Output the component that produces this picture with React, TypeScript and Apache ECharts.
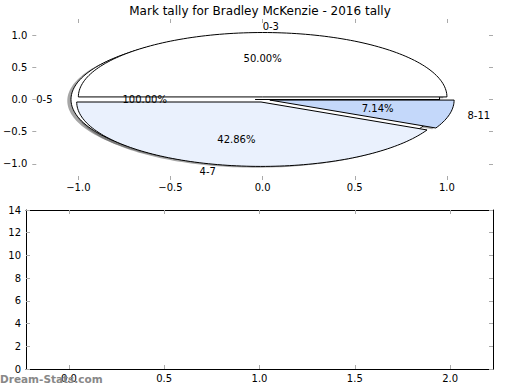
import React, { useEffect, useRef } from "react";
import * as echarts from "echarts";

const categories = ["0-3", "0-5", "4-7", "8-11"];
const counts = [7, 0, 6, 1];
const pctLabels = ["50.00%", "100.00%", "42.86%", "7.14%"];
const topTicks = [-1, -0.5, 0, 0.5, 1];
const bottomXTicks = [0, 0.5, 1, 1.5, 2];
const bottomYTicks = [0, 2, 4, 6, 8, 10, 12, 14];
const drawOrder = [1, 0, 2, 3];

const EXPLODE = 0.04;
const FILLS = ["#ffffff", "#ffffff", "#eaf1fd", "#c4d8fa"];
const FONT = "DejaVu Sans";
const TICK_COLOR = "#aaaaaa";

const total = counts.reduce((a, b) => a + b, 0);

function geom(i: number) {
  let start = 0;
  for (let j = 0; j < i; j++) start += (counts[j] / total) * 360;
  const span = (counts[i] / total) * 360;
  const mid = start + span / 2;
  const rad = (mid * Math.PI) / 180;
  const cx = EXPLODE * Math.cos(rad);
  const cy = EXPLODE * Math.sin(rad);
  const full = span === 0;
  return { cx, cy, t1: full ? 0 : start, t2: full ? 360 : start + span, rad };
}

function wedgePoints(api: any, i: number, dx: number, dy: number) {
  const g = geom(i);
  const pts: number[][] = [api.coord([g.cx + dx, g.cy + dy])];
  const n = Math.max(4, Math.ceil((g.t2 - g.t1) / 1.5));
  for (let k = 0; k <= n; k++) {
    const t = ((g.t1 + ((g.t2 - g.t1) * k) / n) * Math.PI) / 180;
    pts.push(api.coord([g.cx + dx + Math.cos(t), g.cy + dy + Math.sin(t)]));
  }
  return pts;
}

const fmt1 = (v: number) => (v < 0 ? "\u2212" : "") + Math.abs(v).toFixed(1);

export default function App() {
  const ref = useRef<HTMLDivElement>(null);
  useEffect(() => {
    if (!ref.current) return;
    const chart = echarts.init(ref.current, undefined, { renderer: "svg" });
    const labelStyle = { color: "#000", fontFamily: FONT, fontSize: 10 };
    const tickIn = (vals: number[]) => ({
      show: true,
      inside: true,
      length: 4,
      lineStyle: { color: TICK_COLOR, width: 1 },
      customValues: vals,
    });
    const spine = (show: boolean) => ({ show, onZero: false, lineStyle: { color: "#000", width: 1 } });
    const seriesData = drawOrder.map((i) => [0, 0, i]);
    chart.setOption({
      animation: false,
      backgroundColor: "#fff",
      title: {
        text: "Mark tally for Bradley McKenzie - 2016 tally",
        left: "center",
        top: 0,
        textStyle: { fontFamily: FONT, fontSize: 12, fontWeight: "normal", color: "#000" },
      },
      grid: [
        { left: 26, right: 27, top: 19, height: 161 },
        { left: 26, right: 27, top: 210, height: 159 },
      ],
      xAxis: [
        {
          gridIndex: 0, type: "value", position: "bottom", min: -1.25, max: 1.25,
          axisLine: spine(false), splitLine: { show: false },
          axisTick: tickIn(topTicks),
          axisLabel: { ...labelStyle, margin: 2, customValues: topTicks, formatter: fmt1 },
        },
        {
          gridIndex: 0, type: "value", position: "top", min: -1.25, max: 1.25,
          axisLine: spine(false), splitLine: { show: false },
          axisTick: tickIn(topTicks), axisLabel: { show: false },
        },
        {
          gridIndex: 1, type: "value", position: "bottom", min: -0.225, max: 2.225,
          axisLine: spine(true), splitLine: { show: false },
          axisTick: tickIn(bottomXTicks),
          axisLabel: { ...labelStyle, margin: 4, customValues: bottomXTicks, formatter: fmt1 },
        },
        {
          gridIndex: 1, type: "value", position: "top", min: -0.225, max: 2.225,
          axisLine: spine(true), splitLine: { show: false },
          axisTick: tickIn(bottomXTicks), axisLabel: { show: false },
        },
      ],
      yAxis: [
        {
          gridIndex: 0, type: "value", position: "left", min: -1.25, max: 1.25,
          axisLine: spine(false), splitLine: { show: false },
          axisTick: tickIn(topTicks),
          axisLabel: { ...labelStyle, margin: 5, customValues: topTicks, formatter: fmt1 },
        },
        {
          gridIndex: 0, type: "value", position: "right", min: -1.25, max: 1.25,
          axisLine: spine(false), splitLine: { show: false },
          axisTick: tickIn(topTicks), axisLabel: { show: false },
        },
        {
          gridIndex: 1, type: "value", position: "left", min: 0, max: 14,
          axisLine: spine(true), splitLine: { show: false },
          axisTick: tickIn(bottomYTicks),
          axisLabel: { ...labelStyle, margin: 5, customValues: bottomYTicks, formatter: (v: number) => String(v) },
        },
        {
          gridIndex: 1, type: "value", position: "right", min: 0, max: 14,
          axisLine: spine(true), splitLine: { show: false },
          axisTick: tickIn(bottomYTicks), axisLabel: { show: false },
        },
      ],
      series: [
        {
          type: "custom", xAxisIndex: 0, yAxisIndex: 0, z: 1, silent: true,
          data: seriesData,
          renderItem: (_p: any, api: any) => ({
            type: "polygon",
            shape: { points: wedgePoints(api, api.value(2), -0.02, -0.02) },
            style: { fill: "rgba(77,77,77,0.5)", stroke: "none" },
          }),
        },
        {
          type: "custom", xAxisIndex: 0, yAxisIndex: 0, z: 2, silent: true,
          data: seriesData,
          renderItem: (_p: any, api: any) => {
            const i = api.value(2);
            return {
              type: "polygon",
              shape: { points: wedgePoints(api, i, 0, 0) },
              style: { fill: FILLS[i], stroke: "#000", lineWidth: 1 },
            };
          },
        },
        {
          type: "custom", xAxisIndex: 0, yAxisIndex: 0, z: 3, silent: true,
          data: categories.map((_c, i) => [0, 0, i]),
          renderItem: (_p: any, api: any) => {
            const i = api.value(2);
            const g = geom(i);
            const lx = g.cx + 1.1 * Math.cos(g.rad);
            const ly = g.cy + 1.1 * Math.sin(g.rad);
            const px = g.cx + 0.6 * Math.cos(g.rad);
            const py = g.cy + 0.6 * Math.sin(g.rad);
            const lp = api.coord([lx, ly]);
            const pp = api.coord([px, py]);
            return {
              type: "group",
              children: [
                {
                  type: "text", x: lp[0], y: lp[1],
                  style: {
                    text: categories[i], fill: "#000", fontFamily: FONT, fontSize: 10,
                    align: lx > 0 ? "left" : "right", verticalAlign: "middle",
                  },
                },
                {
                  type: "text", x: pp[0], y: pp[1],
                  style: {
                    text: pctLabels[i], fill: "#000", fontFamily: FONT, fontSize: 10,
                    align: "center", verticalAlign: "middle",
                  },
                },
              ],
            };
          },
        },
      ],
      graphic: [
        {
          type: "text", left: 0, top: 373, z: 10,
          style: { text: "Dream-Stats.com", fill: "#888", fontFamily: FONT, fontSize: 10.5, fontWeight: "bold" },
        },
      ],
    });
    return () => chart.dispose();
  }, []);
  return <div ref={ref} style={{ width: 520, height: 390, position: "absolute", left: 0, top: 0 }} />;
}
